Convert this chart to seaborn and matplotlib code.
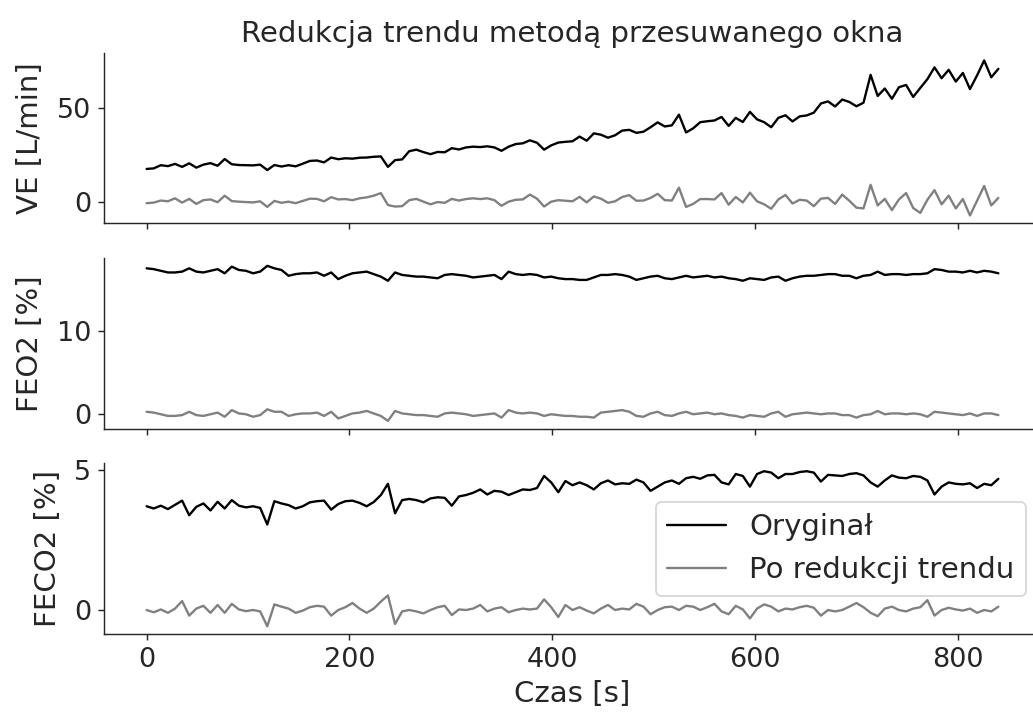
"""
Redukcja trendu metodą przesuwanego okna — VE, FEO2, FECO2 before/after detrending.
"""
import matplotlib
matplotlib.use("Agg")
import matplotlib.pyplot as plt
import numpy as np
import seaborn as sns

# time grid [s], one sample every 7 s
czas = np.arange(0, 841, 7)

# VE [L/min]
ve_orig = [
    17.5, 17.8, 19.5, 19.0, 20.2, 18.6, 20.5, 18.2, 19.8, 20.6,
    19.2, 22.8, 20.0, 19.6, 19.5, 19.4, 19.8, 16.9, 19.6, 18.8,
    19.5, 18.9, 20.3, 21.8, 22.0, 21.0, 23.6, 22.7, 23.2, 23.0,
    23.5, 23.6, 24.0, 24.2, 18.6, 22.2, 22.6, 27.0, 27.8, 26.5,
    25.4, 26.6, 26.4, 28.6, 27.9, 29.0, 29.4, 29.2, 29.6, 29.0,
    27.2, 29.4, 30.8, 31.2, 32.8, 31.5, 27.8, 30.1, 31.6, 32.0,
    32.3, 34.8, 32.6, 36.5, 35.8, 34.2, 35.5, 38.0, 38.4, 36.8,
    37.4, 39.8, 42.4, 40.2, 40.8, 46.5, 37.0, 39.2, 42.5, 43.0,
    43.4, 45.3, 40.5, 44.8, 42.6, 48.0, 44.0, 42.5, 39.8, 44.8,
    46.2, 42.9, 45.6, 46.1, 47.6, 52.5, 53.6, 50.9, 54.6, 53.3,
    51.0, 52.9, 67.8, 56.5, 60.5, 55.0, 61.2, 62.4, 56.0, 60.8,
    65.5, 71.8, 66.0, 70.5, 64.2, 68.8, 60.2, 67.5, 75.5, 66.5,
    71.0,
]
ve_detr = [
    -0.8, -0.5, 0.6, 0.2, 1.8, -0.5, 1.5, -1.2, 0.8, 1.2,
    -0.3, 3.2, 0.3, 0.0, -0.2, -0.4, 0.2, -2.8, 0.4, -0.6,
    0.0, -0.8, 0.4, 1.6, 1.5, 0.2, 2.4, 1.2, 1.4, 0.8,
    1.8, 2.3, 3.2, 4.6, -1.8, -2.6, -2.4, 0.8, 1.5, 0.0,
    -1.4, -0.2, -0.6, 1.5, 0.6, 1.4, 1.8, 1.4, 1.8, 0.8,
    -2.2, 0.0, 1.0, 1.2, 3.8, 1.6, -2.6, 0.0, 0.8, 0.5,
    0.2, 2.6, -0.4, 2.8, 1.6, -0.6, 0.2, 2.5, 3.5, 0.5,
    0.6, 2.0, 4.2, 0.8, 0.6, 7.5, -2.8, -1.2, 1.4, 1.4,
    1.2, 4.6, -1.6, 2.5, -0.4, 4.8, 0.2, -1.4, -3.8, 1.2,
    3.6, -1.0, 1.0, 0.6, -2.4, 1.6, 2.0, -1.2, 3.8, 0.5,
    -3.2, -3.6, 9.0, -2.0, 1.5, -4.5, 1.2, 4.6, -3.4, -6.0,
    1.0, 6.2, -1.4, 3.2, -3.6, 1.4, -7.4, 0.5, 8.4, -2.0,
    2.0,
]

# FEO2 [%]
feo2_orig = [
    17.6, 17.5, 17.3, 17.1, 17.1, 17.2, 17.6, 17.2, 17.1, 17.3,
    17.5, 17.0, 17.8, 17.4, 17.3, 17.0, 17.2, 17.9, 17.6, 17.4,
    16.7, 16.9, 17.0, 17.0, 17.1, 16.7, 17.1, 16.3, 16.7, 17.0,
    17.1, 17.2, 16.9, 16.6, 16.1, 17.1, 16.8, 16.7, 16.6, 16.6,
    16.5, 16.4, 16.8, 16.9, 16.8, 16.7, 16.5, 16.6, 16.7, 16.8,
    16.3, 17.2, 16.9, 16.8, 16.9, 16.8, 16.5, 16.6, 16.4, 16.3,
    16.3, 16.2, 16.2, 16.5, 16.8, 16.8, 16.9, 16.8, 16.6, 16.2,
    16.4, 16.6, 16.7, 16.4, 16.3, 16.5, 16.7, 16.5, 16.6, 16.7,
    16.5, 16.6, 16.4, 16.3, 16.1, 16.4, 16.3, 16.2, 16.5, 16.6,
    16.1, 16.4, 16.6, 16.7, 16.7, 16.8, 16.9, 16.9, 16.7, 16.7,
    16.4, 16.7, 16.8, 17.2, 16.8, 16.9, 16.9, 16.8, 16.9, 16.9,
    17.0, 17.5, 17.4, 17.2, 17.2, 17.1, 17.3, 17.1, 17.3, 17.2,
    17.0,
]
feo2_detr = [
    0.3, 0.2, 0.0, -0.2, -0.2, -0.1, 0.3, -0.1, -0.2, 0.0,
    0.2, -0.3, 0.5, 0.1, 0.0, -0.3, -0.1, 0.6, 0.3, 0.3,
    -0.2, 0.0, 0.1, 0.1, 0.2, -0.2, 0.3, -0.5, -0.2, 0.1,
    0.2, 0.4, 0.1, -0.2, -0.8, 0.4, 0.1, 0.0, -0.1, -0.1,
    -0.2, -0.3, 0.1, 0.2, 0.1, 0.0, -0.2, -0.1, 0.0, 0.1,
    -0.4, 0.5, 0.2, 0.1, 0.2, 0.1, -0.2, 0.0, -0.1, -0.2,
    -0.2, -0.3, -0.3, -0.4, 0.2, 0.3, 0.4, 0.5, 0.3, -0.2,
    -0.3, 0.1, 0.3, -0.1, -0.2, 0.1, 0.3, 0.0, 0.1, 0.2,
    0.0, 0.1, -0.1, -0.2, -0.4, -0.1, -0.2, -0.3, 0.1, 0.3,
    -0.3, 0.0, 0.1, 0.2, 0.1, 0.0, 0.1, 0.1, -0.1, -0.1,
    -0.4, -0.1, 0.0, 0.4, 0.0, 0.1, 0.1, 0.0, 0.1, 0.0,
    -0.3, 0.3, 0.2, 0.1, 0.0, -0.1, 0.1, -0.2, 0.1, 0.1,
    -0.1,
]

# FECO2 [%]
feco2_orig = [
    3.70, 3.62, 3.72, 3.60, 3.75, 3.90, 3.38, 3.68, 3.80, 3.55,
    3.86, 3.62, 3.92, 3.72, 3.66, 3.70, 3.64, 3.05, 3.88, 3.80,
    3.74, 3.62, 3.70, 3.84, 3.88, 3.90, 3.58, 3.78, 3.88, 3.90,
    3.82, 3.70, 3.85, 4.10, 4.50, 3.45, 3.92, 3.96, 3.92, 3.84,
    3.98, 4.02, 4.00, 3.72, 4.05, 4.10, 4.18, 4.30, 4.12, 4.25,
    4.22, 4.10, 4.20, 4.30, 4.28, 4.35, 4.78, 4.55, 4.20, 4.60,
    4.45, 4.55, 4.45, 4.30, 4.52, 4.62, 4.48, 4.52, 4.50, 4.65,
    4.55, 4.25, 4.40, 4.55, 4.62, 4.50, 4.70, 4.75, 4.68, 4.80,
    4.82, 4.55, 4.48, 4.85, 4.78, 4.40, 4.85, 4.95, 4.90, 4.70,
    4.85, 4.85, 4.92, 4.95, 4.90, 4.58, 4.82, 4.80, 4.78, 4.85,
    4.88, 4.80, 4.55, 4.40, 4.62, 4.80, 4.72, 4.70, 4.78, 4.75,
    4.62, 4.12, 4.40, 4.55, 4.50, 4.48, 4.52, 4.35, 4.50, 4.45,
    4.68,
]
feco2_detr = [
    0.00, -0.08, 0.02, -0.10, 0.05, 0.32, -0.20, 0.05, 0.15, -0.10,
    0.18, -0.10, 0.22, 0.02, -0.04, 0.00, -0.05, -0.58, 0.20, 0.12,
    0.05, -0.10, -0.02, 0.10, 0.15, 0.12, -0.20, 0.00, 0.10, 0.25,
    0.05, -0.10, 0.05, 0.30, 0.52, -0.50, -0.05, 0.00, -0.05, -0.12,
    0.00, 0.10, 0.15, -0.18, 0.02, 0.00, 0.05, 0.18, -0.05, 0.05,
    0.10, -0.08, 0.00, 0.05, 0.02, 0.05, 0.38, 0.10, -0.25, 0.18,
    0.00, 0.10, -0.02, -0.12, 0.05, 0.18, 0.00, 0.05, 0.02, 0.22,
    0.12, -0.15, 0.00, 0.10, 0.12, 0.00, 0.15, 0.12, 0.00, 0.10,
    0.22, -0.05, -0.15, 0.15, 0.02, -0.30, 0.05, 0.20, 0.12, -0.05,
    0.05, 0.02, 0.10, 0.15, 0.08, -0.20, 0.00, -0.05, 0.00, 0.12,
    0.25, 0.10, -0.10, -0.22, 0.05, 0.12, 0.00, -0.05, 0.05, 0.10,
    0.35, -0.20, 0.00, 0.08, 0.02, -0.02, 0.05, -0.10, 0.00, -0.05,
    0.12,
]

PANELS = [
    ("VE [L/min]", ve_orig, ve_detr, [0, 50]),
    ("FEO2 [%]", feo2_orig, feo2_detr, [0, 10]),
    ("FECO2 [%]", feco2_orig, feco2_detr, [0, 5]),
]

sns.set_style("ticks")
DPI = 130
FS = 16.2
TICK_FS = 15

fig, axes = plt.subplots(
    3, 1, figsize=(1033 / DPI, 714 / DPI), dpi=DPI, sharex=True,
    gridspec_kw=dict(left=0.1007, right=1.0077, top=0.9262, bottom=0.112, hspace=0.204),
)

for i, (ax, (label, orig, detr, yt)) in enumerate(zip(axes, PANELS)):
    last = i == len(PANELS) - 1
    sns.lineplot(x=czas, y=orig, ax=ax, color="black", lw=1.3, estimator=None,
                 label="Oryginał" if last else None, legend=last)
    sns.lineplot(x=czas, y=detr, ax=ax, color="gray", lw=1.3, estimator=None,
                 label="Po redukcji trendu" if last else None, legend=last)
    ax.set_ylabel(label, fontsize=FS, labelpad=7)
    ax.set_yticks(yt)
    ax.tick_params(labelsize=TICK_FS)

axes[0].set_title("Redukcja trendu metodą przesuwanego okna", fontsize=FS)
axes[-1].set_xticks([0, 200, 400, 600, 800])
axes[-1].set_xlabel("Czas [s]", fontsize=FS)
axes[-1].legend(loc="center right", fontsize=FS)
sns.despine(fig=fig)

fig.savefig("out.png", dpi=DPI)
